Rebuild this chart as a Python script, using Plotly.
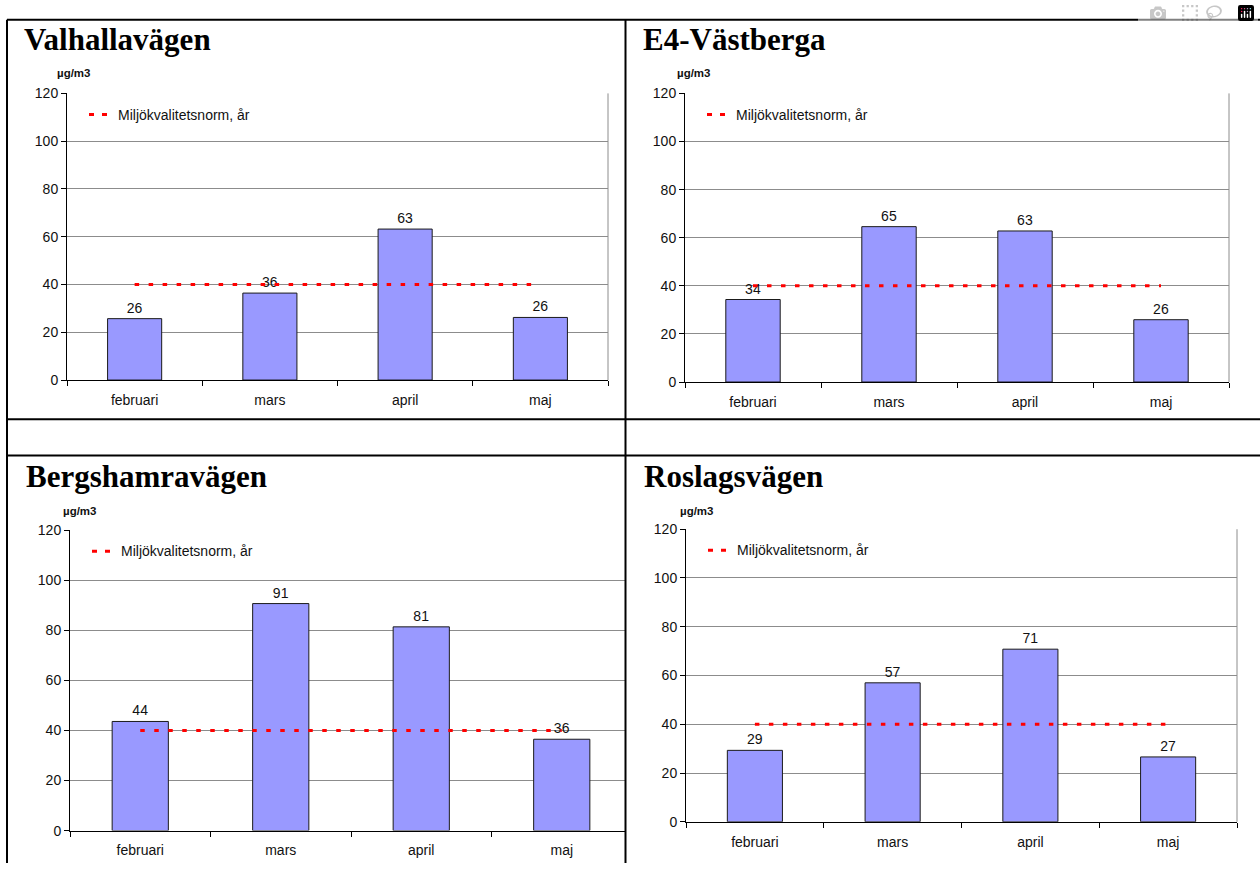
# monthly mean NO2 at four streets, feb-maj, against the annual limit value
import plotly.graph_objects as go

W, H = 1260, 871

months = ['februari', 'mars', 'april', 'maj']
norm = 40  # miljökvalitetsnorm, år (µg/m3)
yticks = [0, 20, 40, 60, 80, 100, 120]

# bar heights, labels are the rounded values
valhallavagen = [25.7, 36.4, 63.2, 26.2]
e4_vastberga = [34.3, 64.6, 62.8, 25.9]
bergshamravagen = [43.6, 90.7, 81.4, 36.5]
roslagsvagen = [29.3, 57.0, 70.8, 26.6]

titles = ['Valhallavägen', 'E4-Västberga', 'Bergshamravägen', 'Roslagsvägen']
series = [valhallavagen, e4_vastberga, bergshamravagen, roslagsvagen]

# layout in pixels: plot box (left, right, top, bottom), title (x, y), unit label (x, y), clip right edge
boxes = [
    dict(plot=(67, 608, 87, 379), title=(22, 32.5), unit=(55, 66), clip=None),
    dict(plot=(685, 1229, 87, 381), title=(641, 32.5), unit=(675, 66), clip=None),
    dict(plot=(70, 632, 532, 838), title=(24, 477.5), unit=(61, 512), clip=625),
    dict(plot=(686, 1237, 531, 829), title=(642, 477.5), unit=(678, 512), clip=None),
]

SANS = 'Liberation Sans, Arial, sans-serif'
SERIF = 'Liberation Serif, Times New Roman, serif'


def px(x):
    return x / W


def py(y):
    return 1 - y / H


fig = go.Figure()
shapes = []
annotations = []

for i, (name, vals, b) in enumerate(zip(titles, series, boxes)):
    n = '' if i == 0 else str(i + 1)
    xa, ya = 'x' + n, 'y' + n
    x0, x1, y0, y1 = b['plot']
    xend = x1
    xrange = [-0.5, 3.5]
    if b['clip']:
        # the table cell cuts the chart off at its right side
        xend = b['clip']
        xrange = [-0.5, -0.5 + 4 * (xend - x0) / (x1 - x0)]

    fig.add_trace(go.Bar(
        x=months, y=vals, xaxis=xa, yaxis=ya,
        text=[str(round(v)) for v in vals], textposition='outside',
        textfont=dict(size=14, color='#111', family=SANS),
        marker=dict(color='#9999ff', line=dict(color='#1a1a1a', width=1)),
        cliponaxis=False, showlegend=False,
    ))
    fig.add_trace(go.Scatter(
        x=months, y=[norm] * len(months), xaxis=xa, yaxis=ya,
        mode='lines', line=dict(color='#ff0000', width=3, dash='4.5px,9.5px'),
        showlegend=False, hoverinfo='skip',
    ))

    fig.layout['xaxis' + n] = dict(
        domain=[px(x0), px(xend)], anchor=ya, range=xrange, type='category',
        showline=True, linecolor='#000', linewidth=1, ticks='outside',
        tickson='boundaries', ticklen=5, tickcolor='#000', showgrid=False,
        tickfont=dict(size=14, color='#111', family=SANS), ticklabelstandoff=7,
        fixedrange=True,
    )
    fig.layout['yaxis' + n] = dict(
        domain=[py(y1), py(y0)], anchor=xa, range=[0, 120], tickvals=yticks,
        showline=True, linecolor='#000', linewidth=1, ticks='outside',
        ticklen=5, tickcolor='#000', showgrid=True, gridcolor='#8c8c8c',
        gridwidth=1, zeroline=False,
        tickfont=dict(size=14, color='#111', family=SANS), fixedrange=True,
    )

    # grey plot-area frame (right side)
    if not b['clip']:
        shapes.append(dict(type='line', xref='paper', yref='paper',
                           x0=px(x1), x1=px(x1), y0=py(y0), y1=py(y1),
                           line=dict(color='#8c8c8c', width=1)))

    # legend key
    ly = y0 + 21.5
    shapes.append(dict(type='line', xref='paper', yref='paper',
                       x0=px(x0 + 22), x1=px(x0 + 40), y0=py(ly), y1=py(ly),
                       line=dict(color='#ff0000', width=3, dash='5px,8px')))
    annotations.append(dict(text='Miljökvalitetsnorm, år', xref='paper', yref='paper',
                            x=px(x0 + 49), y=py(ly), xanchor='left', yanchor='middle',
                            showarrow=False, font=dict(size=14, color='#111', family=SANS)))

    tx, ty = b['title']
    annotations.append(dict(text='<b>' + name + '</b>', xref='paper', yref='paper',
                            x=px(tx), y=py(ty), xanchor='left', yanchor='middle',
                            showarrow=False, font=dict(size=31, color='#000', family=SERIF)))
    ux, uy = b['unit']
    annotations.append(dict(text='<b>µg/m3</b>', xref='paper', yref='paper',
                            x=px(ux), y=py(uy), xanchor='left', yanchor='middle',
                            showarrow=False, font=dict(size=11.5, color='#111', family=SANS)))

# table lines around the four charts
border = dict(color='#000', width=2)
for y in [12, 419, 456]:
    shapes.append(dict(type='line', xref='paper', yref='paper', x0=px(7), x1=1.0,
                       y0=py(y), y1=py(y), line=border))
for x in [7, 625.5]:
    shapes.append(dict(type='line', xref='paper', yref='paper', x0=px(x), x1=px(x),
                       y0=py(12), y1=0.0, line=border))

fig.update_layout(
    width=W, height=H, margin=dict(l=0, r=0, t=0, b=0),
    paper_bgcolor='white', plot_bgcolor='white', bargap=0.6,
    shapes=shapes, annotations=annotations, font=dict(family=SANS),
)

# the page's default body margin would push the figure off the window
fig.write_html("out.html", post_script="document.body.style.margin='0';")
